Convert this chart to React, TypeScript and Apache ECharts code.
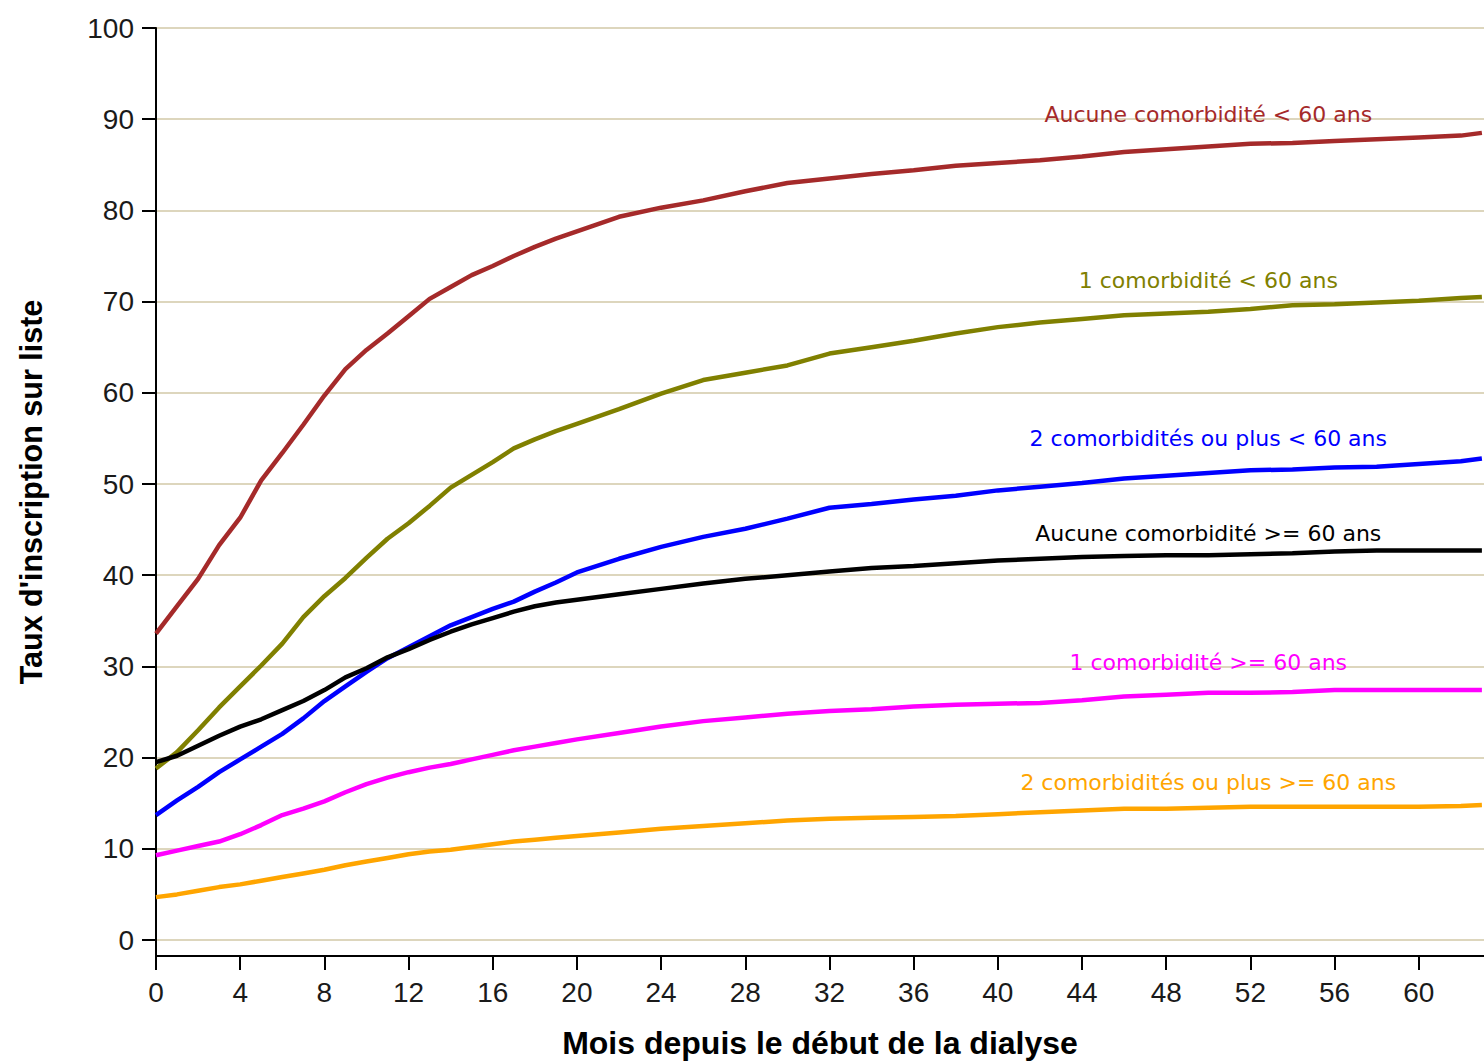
import React, { useEffect, useRef } from "react";
import * as echarts from "echarts";

// Months sampled along the curves
const months = [
  0, 1, 2, 3, 4, 5, 6, 7, 8, 9, 10, 11, 12, 13, 14, 15, 16, 17, 18, 19, 20,
  22, 24, 26, 28, 30, 32, 34, 36, 38, 40, 42, 44, 46, 48, 50, 52, 54, 56, 58, 60, 62,
  63,
];

const aucuneMoins60 = [
  33.6, 36.6, 39.6, 43.3, 46.3, 50.4, 53.4, 56.5, 59.7, 62.6, 64.7, 66.5, 68.4, 70.3, 71.6, 72.9, 73.9, 75.0, 76.0, 76.9, 77.7,
  79.3, 80.3, 81.1, 82.1, 83.0, 83.5, 84.0, 84.4, 84.9, 85.2, 85.5, 85.9, 86.4, 86.7, 87.0, 87.3, 87.4, 87.6, 87.8, 88.0, 88.2,
  88.5,
];
const uneMoins60 = [
  18.8, 20.6, 23.0, 25.5, 27.8, 30.1, 32.5, 35.4, 37.7, 39.7, 41.9, 44.0, 45.7, 47.6, 49.6, 51.0, 52.4, 53.9, 54.9, 55.8, 56.6,
  58.2, 59.9, 61.4, 62.2, 63.0, 64.3, 65.0, 65.7, 66.5, 67.2, 67.7, 68.1, 68.5, 68.7, 68.9, 69.2, 69.6, 69.7, 69.9, 70.1, 70.4,
  70.5,
];
const deuxPlusMoins60 = [
  13.7, 15.3, 16.8, 18.4, 19.8, 21.2, 22.6, 24.3, 26.2, 27.8, 29.4, 30.9, 32.1, 33.3, 34.5, 35.4, 36.3, 37.1, 38.2, 39.2, 40.3,
  41.8, 43.1, 44.2, 45.1, 46.2, 47.4, 47.8, 48.3, 48.7, 49.3, 49.7, 50.1, 50.6, 50.9, 51.2, 51.5, 51.6, 51.8, 51.9, 52.2, 52.5,
  52.8,
];
const aucunePlus60 = [
  19.5, 20.2, 21.3, 22.4, 23.4, 24.2, 25.2, 26.2, 27.4, 28.8, 29.8, 31.0, 31.9, 32.9, 33.8, 34.6, 35.3, 36.0, 36.6, 37.0, 37.3,
  37.9, 38.5, 39.1, 39.6, 40.0, 40.4, 40.8, 41.0, 41.3, 41.6, 41.8, 42.0, 42.1, 42.2, 42.2, 42.3, 42.4, 42.6, 42.7, 42.7, 42.7,
  42.7,
];
const unePlus60 = [
  9.3, 9.8, 10.3, 10.8, 11.6, 12.6, 13.7, 14.4, 15.2, 16.2, 17.1, 17.8, 18.4, 18.9, 19.3, 19.8, 20.3, 20.8, 21.2, 21.6, 22.0,
  22.7, 23.4, 24.0, 24.4, 24.8, 25.1, 25.3, 25.6, 25.8, 25.9, 26.0, 26.3, 26.7, 26.9, 27.1, 27.1, 27.2, 27.4, 27.4, 27.4, 27.4,
  27.4,
];
const deuxPlusPlus60 = [
  4.7, 5.0, 5.4, 5.8, 6.1, 6.5, 6.9, 7.3, 7.7, 8.2, 8.6, 9.0, 9.4, 9.7, 9.9, 10.2, 10.5, 10.8, 11.0, 11.2, 11.4,
  11.8, 12.2, 12.5, 12.8, 13.1, 13.3, 13.4, 13.5, 13.6, 13.8, 14.0, 14.2, 14.4, 14.4, 14.5, 14.6, 14.6, 14.6, 14.6, 14.6, 14.7,
  14.8,
];

const seriesNames = [
  "Aucune comorbidité < 60 ans",
  "1 comorbidité < 60 ans",
  "2 comorbidités ou plus < 60 ans",
  "Aucune comorbidité >= 60 ans",
  "1 comorbidité >= 60 ans",
  "2 comorbidités ou plus >= 60 ans",
];
const seriesValues = [aucuneMoins60, uneMoins60, deuxPlusMoins60, aucunePlus60, unePlus60, deuxPlusPlus60];

// Where each curve's label sits (data coordinates)
const labelMonth = 50;
const labelLevels = [90.5, 72.3, 55.0, 44.6, 30.4, 17.3];

const xTitle = "Mois depuis le début de la dialyse";
const yTitle = "Taux d'inscription sur liste";

const colors = ["#a52a2a", "#808000", "#0000ff", "#000000", "#ff00ff", "#ffa500"];

export default function App() {
  const ref = useRef<HTMLDivElement>(null);

  useEffect(() => {
    if (!ref.current) return;
    const chart = echarts.init(ref.current, null, { renderer: "svg" });
    const tickFont = { fontFamily: "Liberation Sans, Arial, sans-serif", fontSize: 28, color: "#1a1a1a" };
    const titleFont = { fontFamily: "Liberation Sans, Arial, sans-serif", fontWeight: "bold" as const, color: "#000" };

    const series = seriesValues.map((vals, i) => ({
      type: "line",
      name: seriesNames[i],
      xAxisIndex: 0,
      yAxisIndex: 0,
      data: months.map((m, j) => [m, vals[j]]),
      showSymbol: false,
      symbol: "none",
      lineStyle: { color: colors[i], width: 4.5 },
      itemStyle: { color: colors[i] },
      z: 3,
      markPoint: {
        silent: true,
        symbol: "circle",
        symbolSize: 0,
        data: [{ coord: [labelMonth, labelLevels[i]], value: 0 }],
        label: {
          show: true,
          position: "inside",
          formatter: seriesNames[i],
          color: colors[i],
          fontFamily: "DejaVu Sans, Verdana, sans-serif",
          fontSize: 22,
        },
      },
    }));

    chart.setOption({
      animation: false,
      backgroundColor: "#fff",
      grid: [
        { left: 156, right: 0, top: 28, bottom: 124, containLabel: false },
        { left: 156, right: 0, top: 28, bottom: 106, containLabel: false },
      ],
      xAxis: [
        { type: "value", gridIndex: 0, min: 0, max: 63.1, interval: 4, show: false },
        {
          type: "value",
          gridIndex: 1,
          min: 0,
          max: 63.1,
          interval: 4,
          axisLine: { show: true, onZero: false, lineStyle: { color: "#000", width: 2 } },
          axisTick: { show: true, length: 14, lineStyle: { color: "#000", width: 2 } },
          axisLabel: {
            ...tickFont,
            margin: 22,
            showMaxLabel: false,
            formatter: (v: number) => (v % 4 === 0 ? String(v) : ""),
          },
          splitLine: { show: false },
          name: xTitle,
          nameLocation: "middle",
          nameGap: 71,
          nameTextStyle: { ...titleFont, fontSize: 32 },
        },
      ],
      yAxis: [
        {
          type: "value",
          gridIndex: 0,
          min: 0,
          max: 100,
          interval: 10,
          axisLine: { show: false },
          axisTick: { show: true, length: 14, lineStyle: { color: "#000", width: 2 } },
          axisLabel: { ...tickFont, margin: 22 },
          splitLine: { show: true, lineStyle: { color: "#ddd6bd", width: 2 } },
        },
        {
          type: "value",
          gridIndex: 1,
          min: -2,
          max: 100,
          axisLine: { show: true, onZero: false, lineStyle: { color: "#000", width: 2 } },
          axisTick: { show: false },
          axisLabel: { show: false },
          splitLine: { show: false },
          name: yTitle,
          nameLocation: "middle",
          nameGap: 110,
          nameRotate: 90,
          nameTextStyle: { ...titleFont, fontSize: 30.5 },
        },
      ],
      series,
    });
    return () => chart.dispose();
  }, []);

  return (
    <div
      ref={ref}
      style={{ position: "fixed", left: 0, top: 0, width: 1484, height: 1064, background: "#fff" }}
    />
  );
}
